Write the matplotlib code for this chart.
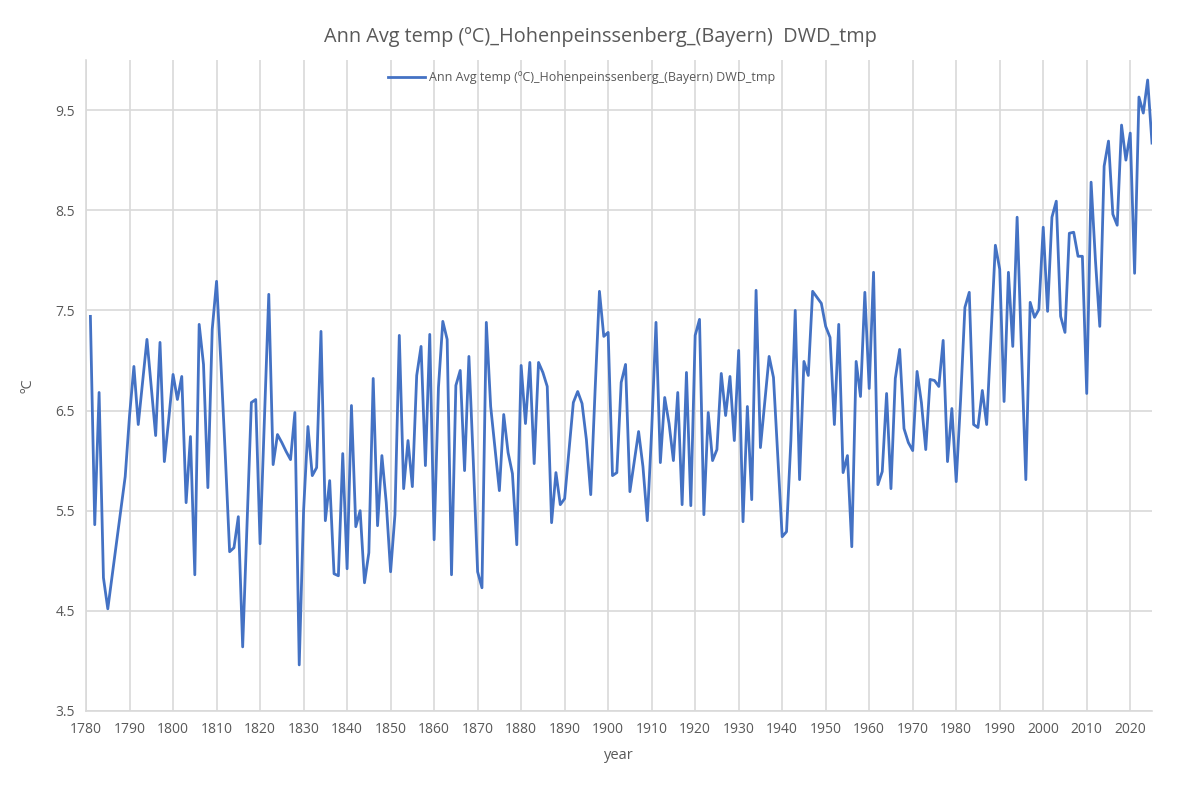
import numpy as np
import matplotlib
matplotlib.use('Agg')
import matplotlib.pyplot as plt

first_year = 1781
temps = [
    7.44, 5.36, 6.68, 4.83, 4.52, 4.85, 5.18, 5.51, 5.84,              # 1781-1789
    6.45, 6.94, 6.36, 6.78, 7.21, 6.73, 6.25, 7.18, 5.99, 6.41,        # 1790s
    6.86, 6.61, 6.84, 5.58, 6.24, 4.86, 7.36, 6.96, 5.73, 7.31,        # 1800s
    7.79, 6.97, 6.06, 5.09, 5.13, 5.44, 4.14, 5.36, 6.58, 6.61,        # 1810s
    5.17, 6.42, 7.66, 5.96, 6.26, 6.18, 6.09, 6.01, 6.48, 3.96,        # 1820s
    5.50, 6.34, 5.85, 5.93, 7.29, 5.40, 5.80, 4.87, 4.85, 6.07,        # 1830s
    4.92, 6.55, 5.34, 5.50, 4.78, 5.08, 6.82, 5.35, 6.05, 5.58,        # 1840s
    4.89, 5.46, 7.25, 5.72, 6.20, 5.74, 6.85, 7.14, 5.95, 7.26,        # 1850s
    5.21, 6.73, 7.39, 7.21, 4.86, 6.75, 6.90, 5.90, 7.04, 6.00,        # 1860s
    4.89, 4.73, 7.38, 6.54, 6.12, 5.70, 6.46, 6.08, 5.87, 5.16,        # 1870s
    6.95, 6.37, 6.98, 5.97, 6.98, 6.88, 6.74, 5.38, 5.88, 5.56,        # 1880s
    5.62, 6.10, 6.58, 6.69, 6.57, 6.21, 5.66, 6.70, 7.69, 7.24,        # 1890s
    7.28, 5.85, 5.88, 6.78, 6.96, 5.69, 5.99, 6.29, 5.94, 5.40,        # 1900s
    6.30, 7.38, 5.98, 6.63, 6.37, 6.00, 6.68, 5.56, 6.88, 5.55,        # 1910s
    7.25, 7.41, 5.46, 6.48, 6.00, 6.11, 6.87, 6.45, 6.84, 6.20,        # 1920s
    7.10, 5.39, 6.54, 5.61, 7.70, 6.13, 6.58, 7.04, 6.83, 6.04,        # 1930s
    5.24, 5.29, 6.20, 7.50, 5.81, 6.99, 6.85, 7.69, 7.63, 7.57,        # 1940s
    7.34, 7.23, 6.36, 7.36, 5.88, 6.05, 5.14, 6.99, 6.64, 7.68,        # 1950s
    6.72, 7.88, 5.76, 5.89, 6.67, 5.72, 6.82, 7.11, 6.32, 6.18,        # 1960s
    6.10, 6.89, 6.58, 6.11, 6.81, 6.80, 6.74, 7.20, 5.99, 6.52,        # 1970s
    5.79, 6.60, 7.53, 7.68, 6.36, 6.33, 6.70, 6.36, 7.26, 8.15,        # 1980s
    7.91, 6.59, 7.88, 7.14, 8.43, 7.10, 5.81, 7.58, 7.43, 7.51,        # 1990s
    8.33, 7.49, 8.43, 8.59, 7.44, 7.28, 8.27, 8.28, 8.04, 8.04,        # 2000s
    6.67, 8.78, 8.00, 7.34, 8.94, 9.19, 8.46, 8.35, 9.35, 9.00,        # 2010s
    9.27, 7.87, 9.63, 9.47, 9.80, 9.17,                                # 2020s
]
years = np.arange(first_year, first_year + len(temps))

x_ticks = list(range(1780, 2021, 10))
y_ticks = [3.5, 4.5, 5.5, 6.5, 7.5, 8.5, 9.5]

series_name = 'Ann Avg temp (ºC)_Hohenpeinssenberg_(Bayern) DWD_tmp'
title = 'Ann Avg temp (ºC)_Hohenpeinssenberg_(Bayern)  DWD_tmp'

plt.rcParams['font.family'] = ['Open Sans', 'DejaVu Sans']
grey = '#595959'
grid_col = '#d9d9d9'

fig = plt.figure(figsize=(12, 7.85), dpi=100)
ax = fig.add_axes([0.0717, 0.0943, 0.8883, 0.8293])

ax.plot(years, temps, color='#4472C4', lw=2.0, label=series_name, zorder=3)

ax.set_xlim(1780, 2025)
ax.set_ylim(3.5, 10.0)
ax.set_xticks(x_ticks)
ax.set_yticks(y_ticks)
ax.set_yticklabels([f'{v:.1f}' for v in y_ticks])
ax.grid(True, color=grid_col, lw=1.2, zorder=0)
ax.tick_params(length=0, labelsize=10, colors=grey, pad=8)

for s in ['top', 'right']:
    ax.spines[s].set_visible(False)
for s in ['left', 'bottom']:
    ax.spines[s].set_color(grid_col)
    ax.spines[s].set_linewidth(1.2)

ax.set_xlabel('year', fontsize=10.5, color=grey, labelpad=8)
ax.set_ylabel('ºC', fontsize=10.5, color=grey, labelpad=14)
fig.suptitle(title, fontsize=14.3, color=grey, y=0.965)

leg = ax.legend(loc='upper center', bbox_to_anchor=(0.465, 1.0), frameon=False,
                fontsize=9, handlelength=3.0, handletextpad=0.3)
for t in leg.get_texts():
    t.set_color(grey)

fig.savefig('out.png', dpi=100, facecolor='white')
